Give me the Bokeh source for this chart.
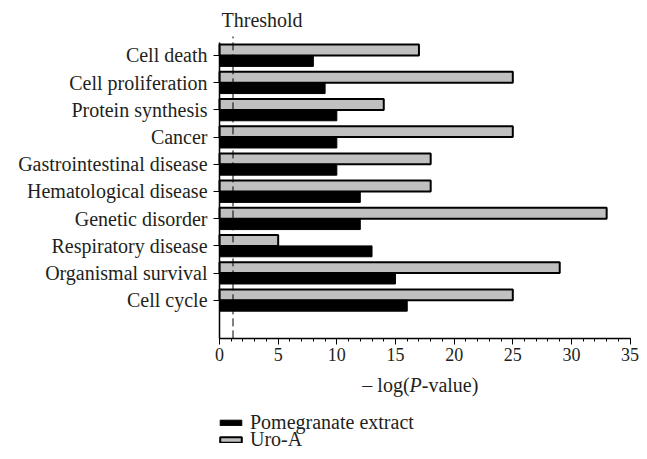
from bokeh.plotting import figure
from bokeh.models import Range1d, FixedTicker, Label, Legend, LegendItem, ColumnDataSource
from bokeh.embed import file_html
from bokeh.resources import INLINE

categories = ["Cell death", "Cell proliferation", "Protein synthesis", "Cancer",
              "Gastrointestinal disease", "Hematological disease", "Genetic disorder",
              "Respiratory disease", "Organismal survival", "Cell cycle"]
pomegranate = [8, 9, 10, 10, 10, 12, 12, 13, 15, 16]
uro_a = [17, 25, 14, 25, 18, 18, 33, 5, 29, 25]
threshold = 1.15
x_ticks = [0, 5, 10, 15, 20, 25, 30, 35]

n = len(categories)
ypos = [n - 1 - i for i in range(n)]
Y_AXIS_LO, Y_AXIS_HI = -1.4, 9.48

FONT = "Liberation Serif"
TXT = "#231f20"

p = figure(width=639, height=451, x_range=Range1d(-18.67, 35.80), y_range=Range1d(-5.559, 11.022),
           output_backend="svg", toolbar_location=None,
           min_border_left=0, min_border_right=0, min_border_top=0, min_border_bottom=0)
p.outline_line_color = None
p.xgrid.visible = False
p.ygrid.visible = False
p.background_fill_color = "white"
p.border_fill_color = "white"

src = ColumnDataSource(dict(
    y_gray=[y + 0.2 for y in ypos],
    y_black=[y - 0.2 for y in ypos],
    uro=uro_a, pom=pomegranate))

r_gray = p.hbar(y="y_gray", right="uro", left=0, height=0.4, source=src,
                fill_color="#c0c0c0", line_color="black", line_width=2)
r_black = p.hbar(y="y_black", right="pom", left=0, height=0.4, source=src,
                 fill_color="black", line_color="black", line_width=1)

p.segment(x0=[threshold], y0=[Y_AXIS_LO], x1=[threshold], y1=[9.7],
          line_color="black", line_width=1, line_dash="8 4")

# axes
p.yaxis.fixed_location = 0
p.yaxis.ticker = FixedTicker(ticks=ypos)
p.yaxis.major_label_overrides = {y: c for y, c in zip(ypos, categories)}
p.yaxis.bounds = (Y_AXIS_LO, Y_AXIS_HI)
p.yaxis.minor_tick_line_color = None
p.yaxis.major_tick_out = 6
p.yaxis.major_tick_in = 0
p.yaxis.major_label_standoff = 6
p.yaxis.major_label_text_font = FONT
p.yaxis.major_label_text_font_size = "20px"
p.yaxis.major_label_text_color = TXT
p.yaxis.axis_line_color = "black"
p.yaxis.axis_line_width = 1.5

p.xaxis.fixed_location = Y_AXIS_LO
p.xaxis.bounds = (0, 35)
p.xaxis.ticker = FixedTicker(ticks=x_ticks, minor_ticks=list(range(36)))
p.xaxis.major_tick_out = 6
p.xaxis.major_tick_in = 0
p.xaxis.minor_tick_out = 3
p.xaxis.minor_tick_in = 0
p.xaxis.major_label_standoff = 4
p.xaxis.major_label_text_font = FONT
p.xaxis.major_label_text_font_size = "18px"
p.xaxis.major_label_text_color = TXT
p.xaxis.axis_line_color = "black"
p.xaxis.axis_line_width = 1.5

# threshold label
p.add_layout(Label(x=0.17, y=10.287, text="Threshold", text_font=FONT,
                   text_font_size="20px", text_color=TXT, text_baseline="middle",
                   text_align="left"))

# x axis label with italic P
ylab = -3.096
p.add_layout(Label(x=16.2, y=ylab, text="\u2013 log(", text_font=FONT, text_font_size="20px",
                   text_color=TXT, text_baseline="middle", text_align="right"))
p.add_layout(Label(x=16.72, y=ylab, text="P", text_font=FONT, text_font_size="20px",
                   text_font_style="italic",
                   text_color=TXT, text_baseline="middle", text_align="center"))
p.add_layout(Label(x=17.24, y=ylab, text="-value)", text_font=FONT, text_font_size="20px",
                   text_color=TXT, text_baseline="middle", text_align="left"))

common = dict(orientation="vertical", glyph_width=27, glyph_height=7, label_standoff=6,
              label_text_font=FONT, label_text_font_size="20px", label_text_color=TXT,
              spacing=0, padding=0, margin=0, border_line_color=None,
              background_fill_alpha=0)
leg1 = Legend(items=[LegendItem(label="Pomegranate extract", renderers=[r_black])],
              location=(217, 17), **common)
leg2 = Legend(items=[LegendItem(label="Uro-A", renderers=[r_gray])],
              location=(217, 0), **common)
p.add_layout(leg1, "center")
p.add_layout(leg2, "center")

open("out.html", "w").write(file_html(p, INLINE))
